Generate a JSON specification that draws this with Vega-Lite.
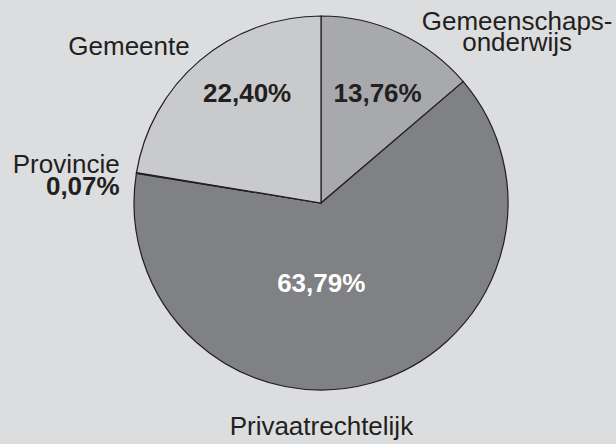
{
  "$schema": "https://vega.github.io/schema/vega-lite/v6.json",
  "width": 590,
  "height": 406,
  "autosize": "none",
  "padding": {"left": 26, "top": 0, "right": 0, "bottom": 38},
  "background": "#dcdddf",
  "config": {"view": {"stroke": null}, "text": {"font": "Liberation Sans", "fontSize": 26, "color": "#231f20", "baseline": "alphabetic"}},
  "data": {"values": [
    {"cat": "Gemeenschapsonderwijs", "value": 13.76, "rank": 1, "pct": "13,76%", "label": "Gemeenschaps-\nonderwijs"},
    {"cat": "Privaatrechtelijk", "value": 63.79, "rank": 2, "pct": "63,79%", "label": "Privaatrechtelijk"},
    {"cat": "Provincie", "value": 0.07, "rank": 3, "pct": "0,07%", "label": "Provincie"},
    {"cat": "Gemeente", "value": 22.40, "rank": 4, "pct": "22,40%", "label": "Gemeente"}
  ]},
  "encoding": {
    "theta": {"field": "value", "type": "quantitative", "stack": true},
    "order": {"field": "rank", "type": "quantitative"}
  },
  "layer": [
    {
      "mark": {"type": "arc", "outerRadius": 187, "stroke": "#231f20", "strokeWidth": 1.2},
      "encoding": {
        "color": {"field": "cat", "type": "nominal", "legend": null,
          "scale": {"domain": ["Gemeenschapsonderwijs", "Privaatrechtelijk", "Provincie", "Gemeente"],
                    "range": ["#a8a9ac", "#808184", "#808184", "#c9cacc"]}}
      }
    },
    {
      "mark": {"type": "text", "fontWeight": "bold", "align": "center", "dx": 8, "dy": 4},
      "encoding": {"radius": {"value": 116},
        "text": {"condition": {"test": "datum.cat === 'Gemeenschapsonderwijs'", "field": "pct"}, "value": ""}}
    },
    {
      "mark": {"type": "text", "fontWeight": "bold", "align": "center", "dx": 7, "dy": -6},
      "encoding": {"radius": {"value": 125},
        "text": {"condition": {"test": "datum.cat === 'Gemeente'", "field": "pct"}, "value": ""}}
    },
    {
      "mark": {"type": "text", "fontWeight": "bold", "align": "center", "dx": -23, "dy": 6, "color": "#ffffff"},
      "encoding": {"radius": {"value": 86},
        "text": {"condition": {"test": "datum.cat === 'Privaatrechtelijk'", "field": "pct"}, "value": ""}}
    },
    {
      "mark": {"type": "text", "align": "center", "dx": -38, "dy": 33},
      "encoding": {"radius": {"value": 238},
        "text": {"condition": {"test": "datum.cat === 'Gemeente'", "field": "label"}, "value": ""}}
    },
    {
      "mark": {"type": "text", "align": "center", "dx": 96, "dy": 44, "lineBreak": "\n", "lineHeight": 21},
      "encoding": {"radius": {"value": 239},
        "text": {"condition": {"test": "datum.cat === 'Gemeenschapsonderwijs'", "field": "label"}, "value": ""}}
    },
    {
      "mark": {"type": "text", "align": "right", "dx": 0, "dy": 3},
      "encoding": {"radius": {"value": 204},
        "text": {"condition": {"test": "datum.cat === 'Provincie'", "field": "label"}, "value": ""}}
    },
    {
      "mark": {"type": "text", "align": "right", "fontWeight": "bold", "dx": 0, "dy": 25},
      "encoding": {"radius": {"value": 204},
        "text": {"condition": {"test": "datum.cat === 'Provincie'", "field": "pct"}, "value": ""}}
    },
    {
      "mark": {"type": "text", "align": "center", "dx": -60, "dy": 17},
      "encoding": {"radius": {"value": 223.5},
        "text": {"condition": {"test": "datum.cat === 'Privaatrechtelijk'", "field": "label"}, "value": ""}}
    }
  ]
}
